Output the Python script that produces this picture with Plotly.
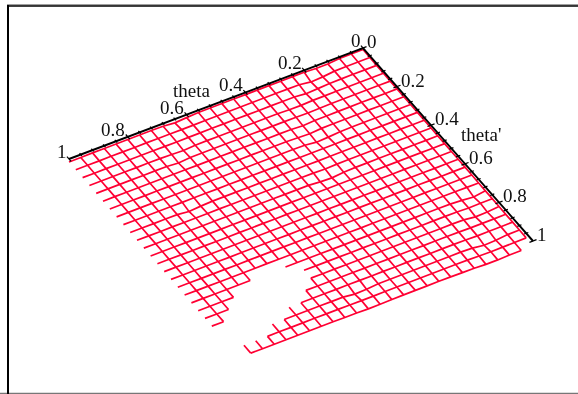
import plotly.graph_objects as go

# =========================
# Data
# =========================
# grid step on both axes is 0.04 (26 lines each way)
theta = [0.00, 0.04, 0.08, 0.12, 0.16, 0.20, 0.24, 0.28, 0.32, 0.36, 0.40, 0.44, 0.48,
         0.52, 0.56, 0.60, 0.64, 0.68, 0.72, 0.76, 0.80, 0.84, 0.88, 0.92, 0.96, 1.00]
theta_p = list(theta)

# surface height (screen units below the axis plane), one row per theta', one column per theta
surface = [
    [1.5, 1.6, 1.6, 2.6, 2.8, 2.0, 2.0, 2.1, 2.1, 2.2, 2.2, 2.2, 2.3, 2.3, 2.4, 3.0, 3.8, 2.8, 2.6, 2.6, 2.7, 2.7, 2.8, 2.8, 2.9, 3.0],
    [1.8, 1.8, 1.9, 2.1, 3.4, 4.0, 2.4, 2.3, 2.3, 2.4, 2.4, 2.4, 2.5, 2.5, 2.6, 2.8, 2.9, 2.8, 2.8, 2.8, 2.9, 2.9, 2.9, 3.0, 3.0, 3.1],
    [1.9, 2.0, 2.0, 2.1, 2.3, 3.0, 3.6, 2.5, 2.5, 2.5, 2.6, 2.6, 2.6, 2.7, 2.7, 2.8, 2.9, 3.0, 3.0, 3.0, 3.0, 3.1, 3.1, 3.1, 3.2, 3.2],
    [2.1, 2.1, 2.2, 2.2, 2.4, 2.5, 2.6, 3.1, 3.0, 2.6, 2.7, 2.7, 2.8, 2.8, 2.9, 2.9, 3.0, 3.9, 3.4, 3.1, 3.1, 3.2, 3.2, 3.3, 3.3, 3.3],
    [2.2, 2.2, 2.3, 2.3, 2.4, 2.5, 2.7, 3.0, 2.9, 2.8, 2.8, 2.9, 2.9, 2.9, 3.0, 3.0, 3.1, 3.2, 4.2, 3.3, 3.2, 3.3, 3.3, 3.4, 3.4, 3.5],
    [2.3, 2.4, 2.4, 2.4, 2.5, 2.6, 2.7, 2.8, 3.6, 2.9, 2.9, 3.0, 3.0, 3.0, 3.1, 3.1, 3.2, 3.3, 3.3, 3.3, 3.4, 3.4, 3.5, 3.5, 3.5, 3.6],
    [2.4, 2.5, 2.5, 2.5, 2.6, 2.7, 2.8, 3.0, 3.9, 3.5, 3.0, 3.1, 3.1, 3.1, 3.2, 3.2, 3.3, 3.4, 3.4, 3.4, 3.5, 3.5, 3.6, 3.6, 3.6, 3.7],
    [2.5, 2.6, 2.6, 2.6, 2.7, 2.8, 3.0, 4.0, 4.6, 3.2, 3.1, 3.2, 3.2, 3.2, 3.3, 3.3, 3.4, 3.5, 3.5, 3.6, 3.6, 3.7, 3.7, 3.7, 3.8, 3.8],
    [2.6, 2.7, 2.7, 2.8, 2.8, 2.9, 3.0, 3.1, 3.2, 3.3, 3.3, 3.3, 3.3, 3.4, 3.4, 3.5, 3.5, 3.6, 3.6, 3.7, 3.8, 3.8, 3.8, 3.9, 3.9, 3.9],
    [2.7, 2.8, 2.8, 2.9, 2.9, 3.0, 3.1, 3.2, 3.3, 3.4, 3.4, 3.4, 3.4, 3.5, 3.5, 3.6, 3.6, 3.7, 3.7, 4.3, 5.2, 3.9, 3.9, 4.0, 4.0, 4.0],
    [2.8, 2.9, 2.9, 3.0, 3.0, 3.1, 3.2, 3.3, 3.4, 3.9, 3.5, 3.5, 3.6, 3.6, 3.6, 3.7, 3.7, 3.8, 3.8, 3.9, 4.0, 4.1, 4.0, 4.1, 4.1, 4.1],
    [2.9, 3.0, 3.0, 3.1, 3.1, 3.2, 3.3, 3.4, 3.8, 5.0, 4.5, 3.6, 3.7, 3.7, 3.7, 3.8, 3.8, 3.9, 3.9, 4.0, 4.1, 4.1, 4.2, 4.2, 4.2, 4.2],
    [3.0, 3.1, 3.1, 3.2, 3.2, 3.3, 3.4, 3.5, 3.6, 3.7, 3.7, 3.7, 3.8, 3.8, 3.8, 3.9, 3.9, 4.0, 4.0, 4.1, 4.2, 4.2, 4.3, 4.3, 4.3, 4.3],
    [3.1, 3.2, 3.3, 3.3, 3.3, 3.4, 3.5, 3.6, 3.6, 3.7, 3.8, 3.8, 3.9, 3.9, 3.9, 4.0, 4.0, 4.1, 4.1, 4.2, 4.3, 4.3, 4.4, 4.4, 4.4, 4.4],
    [3.2, 3.3, 3.4, 3.4, 3.4, 3.5, 3.6, 3.7, 3.7, 3.8, 3.9, 3.9, 4.0, 4.0, 4.0, 4.1, 4.1, 4.2, 4.2, 4.3, 4.4, 4.4, 4.5, 4.5, 4.5, 4.5],
    [3.3, 3.4, 3.5, 3.5, 3.5, 3.6, 3.7, 3.8, 3.8, 3.9, 4.0, 4.0, 4.1, 4.1, 4.1, 4.2, 4.2, 4.3, 4.3, 4.4, 4.5, 4.5, 4.6, 4.6, 4.6, 4.6],
    [3.5, 3.6, 3.6, 3.6, 3.6, 3.7, 3.8, 3.9, 3.9, 4.0, 4.1, 4.1, 4.2, 4.2, 4.2, 4.3, 4.3, 4.4, 4.4, 4.5, 4.6, 4.6, 4.7, 4.7, 4.7, 4.7],
    [3.7, 3.7, 3.7, 3.7, 3.7, 3.8, 3.9, 4.0, 4.0, 4.1, 4.2, 4.2, 4.3, 4.3, 4.3, 4.4, 4.4, 4.5, 4.5, 4.6, 4.7, 4.7, 4.8, 4.8, 4.8, 4.8],
    [3.9, 5.6, 4.5, 3.8, 3.8, 3.9, 4.0, 4.1, 4.1, 4.2, 4.3, 4.3, 4.4, 4.4, 4.4, 4.5, 4.5, 4.6, 4.6, 4.7, 4.8, 4.8, 4.9, 4.9, 4.9, 4.9],
    [4.0, 4.1, 4.5, 4.0, 3.9, 4.0, 4.1, 4.2, 4.2, 4.3, 4.4, 4.4, 4.5, 4.5, 4.5, 4.6, 4.6, 4.7, 4.7, 4.8, 4.8, 4.9, 5.0, 5.0, 5.0, 5.0],
    [4.1, 5.2, 5.6, 4.2, 4.0, 4.1, 4.2, 4.3, 4.3, 4.4, 4.5, 4.5, 4.6, 4.6, 4.6, 4.7, 4.7, 4.8, 4.8, 4.8, 4.9, 5.0, 5.0, 5.0, 5.0, 5.0],
    [4.2, 4.3, 4.4, 4.4, 4.2, 4.2, 4.3, 4.4, 4.4, 4.5, 4.6, 4.6, 4.7, 4.7, 4.7, 4.8, 4.8, 4.8, 4.9, 4.9, 5.0, 5.0, 5.0, 5.0, 5.0, 5.0],
    [4.3, 4.4, 4.5, 4.7, 4.4, 4.3, 4.4, 4.5, 4.5, 4.6, 4.7, 4.7, 4.8, 4.8, 4.8, 4.9, 4.9, 4.9, 5.0, 5.0, 5.0, 5.1, 5.1, 5.1, 5.1, 5.1],
    [4.4, 4.6, 5.8, 6.4, 4.8, 4.4, 4.5, 4.6, 4.6, 4.7, 4.8, 4.8, 4.9, 6.0, 6.4, 5.0, 5.0, 5.0, 5.0, 5.1, 5.1, 5.2, 5.2, 5.2, 5.2, 5.2],
    [4.6, 4.8, 5.0, 5.2, 5.0, 4.6, 4.6, 4.7, 4.7, 4.8, 4.9, 4.9, 5.0, 5.1, 5.2, 5.1, 5.1, 5.1, 5.1, 5.2, 5.3, 5.3, 5.4, 5.4, 5.4, 5.4],
    [4.8, 5.0, 5.2, 5.6, 5.6, 5.0, 5.0, 4.8, 4.8, 4.9, 5.0, 5.0, 5.3, 5.6, 5.7, 5.4, 5.4, 5.3, 5.3, 5.4, 5.5, 5.5, 5.6, 5.6, 5.6, 5.6],
]

# which part of each grid line is drawn: {index: [(first, last), ...]}, the rest is missing in the picture
row_spans = {18: [(0, 17), (20, 25)], 19: [(0, 16), (22, 25)], 20: [(0, 16), (23, 25)],
             21: [(0, 17), (24, 25)], 22: [(0, 18)], 23: [(0, 20)], 24: [(0, 22)], 25: [(1, 24)]}
col_spans = {0: [(0, 24)], 16: [(0, 18), (20, 25)], 17: [(0, 17), (21, 25)], 18: [(0, 17), (22, 25)],
             19: [(0, 17), (22, 25)], 20: [(0, 18), (23, 25)], 21: [(0, 18), (23, 25)],
             22: [(0, 19), (24, 25)], 23: [(0, 20), (24, 25)], 24: [(0, 21), (24, 25)]}

tick_values = [0, 0.2, 0.4, 0.6, 0.8, 1]
tick_labels = ["0", "0.2", "0.4", "0.6", "0.8", "1"]

# =========================
# View of the theta / theta' plane
# =========================
ORIGEM = (363.0, 48.0)
EIXO_T = (-294.0, 111.0)
EIXO_P = (170.0, 193.0)


def proj(t, p, h=0.0):
    return (ORIGEM[0] + t * EIXO_T[0] + p * EIXO_P[0],
            ORIGEM[1] + t * EIXO_T[1] + p * EIXO_P[1] + h)


# =========================
# Wireframe
# =========================
xs, ys = [], []


def add_line(points):
    for t, p, h in points:
        x, y = proj(t, p, h)
        xs.append(x)
        ys.append(y)
    xs.append(None)
    ys.append(None)


for j in range(26):
    for a, b in row_spans.get(j, [(0, 25)]):
        add_line([(theta[i], theta_p[j], surface[j][i]) for i in range(a, b + 1)])

for i in range(25):
    for a, b in col_spans.get(i, [(0, 25)]):
        add_line([(theta[i], theta_p[j], surface[j][i]) for j in range(a, b + 1)])

fig = go.Figure()
fig.add_trace(go.Scatter(x=xs, y=ys, mode="lines", line=dict(color="#ff0033", width=1.7, simplify=False),
                         hoverinfo="skip", showlegend=False))

# =========================
# Axes with ticks
# =========================
ax, ay = [], []
for a in [proj(1, 0), proj(0, 0), proj(0, 1)]:
    ax.append(a[0])
    ay.append(a[1])
fig.add_trace(go.Scatter(x=ax, y=ay, mode="lines", line=dict(color="black", width=1.9),
                         hoverinfo="skip", showlegend=False))

tx, ty = [], []
for n, t in enumerate(theta):
    # each tick runs along the other axis
    s = 0.012 if n % 5 == 0 else 0.007
    for a, b in [(proj(t, -s), proj(t, s)), (proj(-s, t), proj(s, t))]:
        tx += [a[0], b[0], None]
        ty += [a[1], b[1], None]
fig.add_trace(go.Scatter(x=tx, y=ty, mode="lines", line=dict(color="black", width=1.2),
                         hoverinfo="skip", showlegend=False))

# =========================
# Text
# =========================
fonte = dict(family="Liberation Serif", size=19, color="#111111")

for t, txt in zip(tick_values, tick_labels):
    x, y = proj(t, 0)
    fig.add_annotation(x=x - 0.5, y=y - 7.5, text=txt, showarrow=False, xanchor="right", yanchor="middle", font=fonte)

for p, txt in zip(tick_values, tick_labels):
    x, y = proj(0, p)
    fig.add_annotation(x=x + 1.5, y=y - 6.5, text=txt, showarrow=False, xanchor="left", yanchor="middle", font=fonte)

fig.add_annotation(x=191, y=90.5, text="theta", showarrow=False, font=fonte)
fig.add_annotation(x=480.5, y=134.5, text="theta'", showarrow=False, font=fonte)

# =========================
# Frame
# =========================
fig.add_shape(type="line", x0=0, x1=578, y0=393.8, y1=393.8, line=dict(color="#777777", width=2))
fig.add_shape(type="line", x0=7, x1=578, y0=4.8, y1=4.8, line=dict(color="#777777", width=1))
fig.add_shape(type="line", x0=7, x1=578, y0=6, y1=6, line=dict(color="black", width=1.6))
fig.add_shape(type="line", x0=8, x1=8, y0=5, y1=394, line=dict(color="black", width=2))

fig.update_layout(
    width=578, height=394,
    margin=dict(l=0, r=0, t=0, b=0),
    paper_bgcolor="white", plot_bgcolor="white",
    showlegend=False,
    xaxis=dict(range=[0, 578], visible=False, fixedrange=True),
    yaxis=dict(range=[394, 0], visible=False, fixedrange=True),
)

# page without margin, slight softness like the scanned reference
fig.write_html("out.html", config=dict(displayModeBar=False),
               post_script="document.body.style.margin='0';document.body.style.overflow='hidden';"
                           "document.querySelectorAll('.js-line').forEach(function(e){e.style.shapeRendering='geometricPrecision';});"
                           "document.querySelectorAll('.main-svg').forEach(function(e){e.style.filter='blur(0.35px)';});")
